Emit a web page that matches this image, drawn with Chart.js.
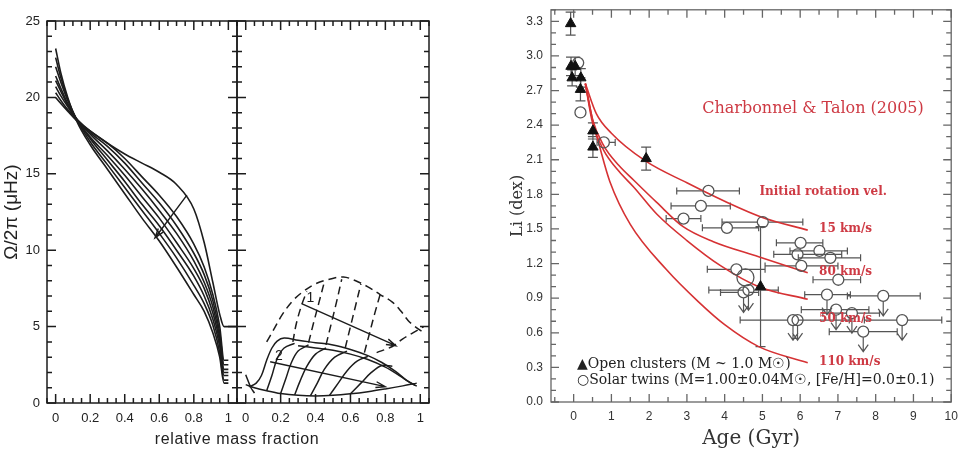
<!DOCTYPE html>
<html>
<head>
<meta charset="utf-8">
<script src="https://cdn.jsdelivr.net/npm/chart.js@4.4.1/dist/chart.umd.min.js"></script>
<style>
body { margin: 0; background: #fff; width: 961px; height: 451px; position: relative; overflow: hidden; }
canvas { position: absolute; top: 0; }
#massLabel { position: absolute; left: 137px; width: 200px; top: 430px; line-height: 18px; text-align: center;
  font: 16px "Liberation Sans", Arial, sans-serif; letter-spacing: 0.6px; color: #222; }
</style>
</head>
<body>
<canvas id="omegaLeft" width="240" height="451" style="left:0"></canvas>
<canvas id="omegaRight" width="215" height="451" style="left:227px"></canvas>
<canvas id="liChart" width="461" height="451" style="left:500px"></canvas>
<div id="massLabel">relative mass fraction</div>
<script>
// ---- left panel: rotation profiles (Omega/2pi vs relative mass fraction)
const massTicks = [0, 0.2, 0.4, 0.6, 0.8, 1];
const omegaTicks = [0, 5, 10, 15, 20, 25];
const massX = [0, 0.03, 0.07, 0.12, 0.2, 0.3, 0.4, 0.5, 0.6, 0.7, 0.8, 0.86, 0.91, 0.95, 0.975, 1.0, 1.05];
const omega1 = [20.0, 19.6, 19.1, 18.5, 17.8, 17.0, 16.3, 15.7, 15.1, 14.3, 12.7, 10.5, 7.9, 5.8, 5.0, 5.0, 5.0];
const omega2 = [20.3, 19.8, 19.2, 18.6, 17.8, 17.0, 16.0, 14.8, 13.6, 12.2, 10.4, 8.9, 7.1, 5.0, 2.8, 2.8, null];
const omega3 = [20.7, 20.1, 19.4, 18.6, 17.7, 16.8, 15.7, 14.4, 13.1, 11.6, 9.8, 8.4, 6.7, 4.6, 2.5, 2.5, null];
const omega4 = [21.1, 20.4, 19.5, 18.6, 17.6, 16.5, 15.3, 14.0, 12.6, 11.1, 9.3, 7.9, 6.3, 4.3, 2.2, 2.2, null];
const omega5 = [21.4, 20.6, 19.6, 18.6, 17.4, 16.2, 14.9, 13.5, 12.1, 10.5, 8.8, 7.5, 5.9, 4.0, 2.0, 2.0, null];
const omega6 = [22.0, 21.0, 19.8, 18.6, 17.3, 15.9, 14.5, 13.0, 11.6, 10.0, 8.3, 7.0, 5.5, 3.7, 1.8, 1.8, null];
const omega7 = [22.6, 21.3, 19.9, 18.6, 17.1, 15.6, 14.1, 12.6, 11.1, 9.5, 7.7, 6.5, 5.1, 3.3, 1.5, 1.5, null];
const omega8 = [23.2, 21.6, 20.0, 18.5, 16.9, 15.3, 13.7, 12.1, 10.6, 8.9, 7.1, 6.0, 4.6, 3.0, 1.3, 1.3, null];
const omegaCurves = [omega1, omega2, omega3, omega4, omega5, omega6, omega7, omega8];
const omegaArrow = {from: [0.76, 13.6], to: [0.575, 10.8]};

// ---- second sub-panel: solid family "2" and dashed family "1"
const solidOuter = [[0.02,1.05],[0.06,1.3],[0.09,1.8],[0.12,2.8],[0.15,3.6],[0.18,4.05],[0.22,4.25],[0.3,4.1],[0.4,3.95],[0.5,3.8],[0.6,3.5],[0.7,3.1],[0.78,2.65],[0.86,2.05],[0.92,1.5],[0.97,1.15]];
const solidBottom = [[0.0,1.2],[0.05,1.0],[0.12,0.8],[0.2,0.62],[0.3,0.5],[0.4,0.46],[0.5,0.5],[0.6,0.6],[0.7,0.74],[0.8,0.92],[0.9,1.12],[0.98,1.3]];
const solidTop = [[0.3,3.75],[0.4,3.6],[0.5,3.45],[0.6,3.2],[0.7,2.85],[0.8,2.35],[0.88,1.8],[0.94,1.35],[0.98,1.1]];
const solidSpike = [[0.0,1.85],[0.03,1.0],[0.05,0.65]];
const solidRise1 = [[0.12,0.8],[0.15,1.8],[0.18,2.9],[0.22,3.6],[0.28,3.9]];
const solidRise2 = [[0.2,0.62],[0.23,1.6],[0.26,2.6],[0.3,3.4],[0.36,3.8]];
const solidRise3 = [[0.28,0.52],[0.31,1.4],[0.35,2.4],[0.4,3.2],[0.46,3.6]];
const solidRise4 = [[0.37,0.46],[0.41,1.3],[0.45,2.2],[0.51,3.0],[0.58,3.4]];
const solidRise5 = [[0.48,0.5],[0.53,1.3],[0.58,2.1],[0.64,2.75],[0.7,3.05]];
const solidRise6 = [[0.6,0.6],[0.66,1.3],[0.72,2.0],[0.78,2.45],[0.84,2.4]];
const dashOuter = [[0.12,4.0],[0.16,4.8],[0.21,5.8],[0.27,6.7],[0.33,7.3],[0.4,7.8],[0.48,8.1],[0.56,8.25],[0.63,8.0],[0.7,7.6],[0.77,7.1],[0.84,6.6],[0.89,6.0],[0.93,5.4],[0.97,5.0],[1.02,4.6]];
const dash1 = [[0.27,4.0],[0.29,5.2],[0.32,6.4],[0.35,7.3]];
const dash2 = [[0.36,3.95],[0.39,5.3],[0.42,6.6],[0.45,7.9]];
const dash3 = [[0.46,3.8],[0.49,5.2],[0.52,6.6],[0.55,8.1]];
const dash4 = [[0.57,3.6],[0.6,5.0],[0.63,6.4],[0.66,7.8]];
const dash5 = [[0.68,3.3],[0.71,4.6],[0.74,5.9],[0.77,7.1]];
const dashLower = [[0.75,3.3],[0.84,3.7],[0.9,4.2],[0.96,4.6],[1.02,5.0]];
const solidCurves = [solidOuter, solidBottom, solidTop, solidSpike, solidRise1, solidRise2, solidRise3, solidRise4, solidRise5, solidRise6];
const dashCurves = [dashOuter, dash1, dash2, dash3, dash4, dash5, dashLower];
const arrowOne = {from: [0.32, 6.5], to: [0.86, 3.75]};
const arrowTwo = {from: [0.14, 2.7], to: [0.8, 1.07]};

// ---- right panel: Li abundance vs age
const ageTicks = [0, 1, 2, 3, 4, 5, 6, 7, 8, 9, 10];
const liTicks = [0, 0.3, 0.6, 0.9, 1.2, 1.5, 1.8, 2.1, 2.4, 2.7, 3.0, 3.3];
const clusterAge = [-0.08, -0.07, 0.04, -0.04, 0.19, 0.18, 0.51, 0.51, 1.92, 4.95];
const clusterLi = [3.28, 2.91, 2.91, 2.81, 2.81, 2.71, 2.35, 2.21, 2.11, 1.0];
const clusterLiErr = [0.1, 0.08, 0.08, 0.07, 0.08, 0.1, 0.07, 0.09, 0.1, 0.52];
const twinAge = [0.12, 0.18, 0.8, 3.57, 3.37, 2.91, 4.06, 5.01, 6.01, 6.51, 5.93, 6.8, 6.03, 7.01, 4.31, 4.63, 6.71, 8.2, 6.95, 7.37, 5.81, 5.93, 7.67, 8.7, 4.5];
const twinLi = [2.94, 2.51, 2.25, 1.83, 1.70, 1.59, 1.51, 1.56, 1.38, 1.31, 1.28, 1.25, 1.18, 1.06, 1.15, 0.97, 0.93, 0.92, 0.80, 0.77, 0.71, 0.71, 0.61, 0.71, 0.95];
const twinAgeLo = [0.12, 0.18, 0.62, 2.73, 2.58, 2.45, 3.41, 3.93, 5.37, 5.73, 5.3, 5.95, 5.07, 6.34, 3.54, 3.58, 6.12, 7.25, 6.03, 6.6, 4.41, 5.93, 6.77, 7.7, 3.89];
const twinAgeHi = [0.12, 0.18, 1.1, 4.39, 4.15, 3.37, 4.9, 6.07, 6.6, 7.25, 7.1, 7.6, 7.0, 7.6, 5.07, 5.42, 7.33, 9.18, 7.82, 8.1, 7.3, 5.93, 8.57, 9.75, 4.9];
const twinUpper = [0, 0, 0, 0, 0, 0, 0, 0, 0, 0, 0, 0, 0, 0, 0, 1, 1, 1, 1, 1, 1, 1, 1, 1, 1];
const bigTwinAge = [4.55];
const bigTwinLi = [1.08];
const vel15Age = [0.31, 0.6, 1.0, 1.9, 3.0, 4.0, 5.0, 6.2];
const vel15Li = [2.76, 2.5, 2.33, 2.09, 1.9, 1.74, 1.6, 1.49];
const vel80Age = [0.31, 0.5, 0.8, 1.2, 1.6, 2.2, 2.9, 3.7, 4.9, 6.2];
const vel80Li = [2.76, 2.45, 2.22, 2.05, 1.92, 1.73, 1.52, 1.39, 1.26, 1.12];
const vel50Age = [0.31, 0.5, 0.8, 1.2, 1.6, 2.2, 3.0, 3.9, 4.9, 6.2];
const vel50Li = [2.76, 2.42, 2.18, 2.0, 1.86, 1.63, 1.4, 1.18, 1.0, 0.89];
const vel110Age = [0.31, 0.5, 0.7, 0.96, 1.5, 2.45, 3.3, 4.0, 4.9, 6.2];
const vel110Li = [2.76, 2.45, 2.2, 1.91, 1.54, 1.15, 0.87, 0.67, 0.48, 0.34];
const velLabels = ['15 km/s', '80 km/s', '50 km/s', '110 km/s'];
const velLabelLi = [1.5, 1.13, 0.72, 0.35];

Chart.defaults.font.family = '"Liberation Sans", Arial, sans-serif';

function stepValues(min, max, step) {
    const out = [];
    for (let k = Math.ceil(min / step - 1e-9); k * step <= max + 1e-9; k++) out.push(k * step);
    return out;
}
const onStep = (v, step) => Math.abs(v / step - Math.round(v / step)) < 1e-6;

// box frame with inward ticks on all four sides
const frameTicks = {
    id: 'frameTicks',
    afterDatasetsDraw(chart, args, o) {
        const {ctx, chartArea: a} = chart;
        const xs = chart.scales.x, ys = chart.scales.y;
        ctx.save();
        ctx.strokeStyle = o.color;
        ctx.lineWidth = o.lineWidth;
        ctx.beginPath();
        stepValues(xs.min, xs.max, o.xMinor).forEach(v => {
            const p = xs.getPixelForValue(v);
            const len = onStep(v, o.xMajor) ? o.majorLen : o.minorLen;
            ctx.moveTo(p, a.bottom); ctx.lineTo(p, a.bottom - len);
            ctx.moveTo(p, a.top); ctx.lineTo(p, a.top + len);
        });
        stepValues(ys.min, ys.max, o.yMinor).forEach(v => {
            const p = ys.getPixelForValue(v);
            const len = onStep(v, o.yMajor) ? o.majorLen : o.minorLen;
            ctx.moveTo(a.left, p); ctx.lineTo(a.left + len, p);
            ctx.moveTo(a.right, p); ctx.lineTo(a.right - len, p);
        });
        ctx.stroke();
        ctx.strokeRect(a.left, a.top, a.right - a.left, a.bottom - a.top);
        ctx.restore();
    }
};

// arrows and text placed in data units
const notes = {
    id: 'notes',
    afterDatasetsDraw(chart, args, o) {
        const {ctx} = chart;
        const xs = chart.scales.x, ys = chart.scales.y;
        ctx.save();
        (o.arrows || []).forEach(ar => {
            const x0 = xs.getPixelForValue(ar.from[0]), y0 = ys.getPixelForValue(ar.from[1]);
            const x1 = xs.getPixelForValue(ar.to[0]), y1 = ys.getPixelForValue(ar.to[1]);
            const ang = Math.atan2(y1 - y0, x1 - x0);
            ctx.strokeStyle = '#1c1c1c';
            ctx.lineWidth = 1.4;
            ctx.beginPath();
            ctx.moveTo(x0, y0); ctx.lineTo(x1, y1);
            ctx.moveTo(x1 - 10 * Math.cos(ang - 0.3), y1 - 10 * Math.sin(ang - 0.3));
            ctx.lineTo(x1, y1);
            ctx.lineTo(x1 - 10 * Math.cos(ang + 0.3), y1 - 10 * Math.sin(ang + 0.3));
            ctx.stroke();
        });
        (o.labels || []).forEach(lb => {
            ctx.font = lb.font;
            ctx.fillStyle = lb.color;
            ctx.textAlign = lb.align || 'left';
            ctx.textBaseline = 'middle';
            ctx.fillText(lb.text, xs.getPixelForValue(lb.at[0]), ys.getPixelForValue(lb.at[1]));
        });
        ctx.restore();
    }
};

// horizontal age bars, vertical Li bars and upper-limit arrows
const errorBars = {
    id: 'errorBars',
    beforeDatasetsDraw(chart) {
        const {ctx, chartArea: a} = chart;
        const xs = chart.scales.x, ys = chart.scales.y;
        const r = 5.5;
        ctx.save();
        ctx.beginPath();
        ctx.rect(a.left, a.top, a.right - a.left, a.bottom - a.top);
        ctx.clip();
        ctx.strokeStyle = '#555';
        ctx.lineWidth = 1.2;
        ctx.beginPath();
        twinAge.forEach((age, i) => {
            const px = xs.getPixelForValue(age), py = ys.getPixelForValue(twinLi[i]);
            const x0 = xs.getPixelForValue(twinAgeLo[i]), x1 = xs.getPixelForValue(twinAgeHi[i]);
            if (x1 - x0 > 1) {
                ctx.moveTo(x0, py); ctx.lineTo(px - r, py);
                ctx.moveTo(px + r, py); ctx.lineTo(x1, py);
                ctx.moveTo(x0, py - 3.5); ctx.lineTo(x0, py + 3.5);
                ctx.moveTo(x1, py - 3.5); ctx.lineTo(x1, py + 3.5);
            }
            if (twinUpper[i]) {
                ctx.moveTo(px, py + r); ctx.lineTo(px, py + 20);
                ctx.moveTo(px - 5, py + 13); ctx.lineTo(px, py + 20); ctx.lineTo(px + 5, py + 13);
            }
        });
        clusterAge.forEach((age, i) => {
            const px = xs.getPixelForValue(age);
            const y0 = ys.getPixelForValue(clusterLi[i] - clusterLiErr[i]);
            const y1 = ys.getPixelForValue(clusterLi[i] + clusterLiErr[i]);
            ctx.moveTo(px, y0); ctx.lineTo(px, y1);
            ctx.moveTo(px - 5, y0); ctx.lineTo(px + 5, y0);
            ctx.moveTo(px - 5, y1); ctx.lineTo(px + 5, y1);
        });
        ctx.stroke();
        ctx.restore();
    }
};

// fixed axis size, and no extra room for labels that overhang the box
function fixedAxis(size, horizontal) {
    return s => {
        if (horizontal) s.height = size; else s.width = size;
        s.paddingTop = 0; s.paddingBottom = 0; s.paddingLeft = 0; s.paddingRight = 0;
    };
}
function tickList(list) {
    return s => { s.ticks = list.map(v => ({value: v})); };
}
const pairData = pts => pts.map(p => ({x: p[0], y: p[1]}));
const zipData = (xs, ys) => xs.map((v, i) => ({x: v, y: ys[i]})).filter(p => p.y !== null);

const omegaFrame = {color: '#1c1c1c', lineWidth: 1.5, xMajor: 0.2, xMinor: 0.05, yMajor: 5, yMinor: 1, majorLen: 9, minorLen: 5};
const massTickOpts = {padding: 8, autoSkip: false, maxRotation: 0, color: '#222', font: {size: 13}, callback: v => String(v)};

new Chart(document.getElementById('omegaLeft'), {
    type: 'scatter',
    data: {
        datasets: omegaCurves.map(c => ({
            data: zipData(massX, c),
            showLine: true, pointRadius: 0, borderColor: '#1c1c1c', borderWidth: 1.6,
            cubicInterpolationMode: 'monotone'
        }))
    },
    options: {
        responsive: false, animation: false,
        layout: {padding: {top: 21, right: 3, left: 0, bottom: 0}},
        plugins: {
            legend: {display: false}, tooltip: {enabled: false},
            frameTicks: omegaFrame,
            notes: {arrows: [omegaArrow]}
        },
        scales: {
            x: {
                type: 'linear', min: -0.05, max: 1.05,
                grid: {display: false, drawTicks: false}, border: {display: false},
                afterBuildTicks: tickList(massTicks), afterFit: fixedAxis(48, true),
                ticks: massTickOpts
            },
            y: {
                type: 'linear', min: 0, max: 25,
                grid: {display: false, drawTicks: false}, border: {display: false},
                afterBuildTicks: tickList(omegaTicks), afterFit: fixedAxis(47, false),
                ticks: {padding: 7, autoSkip: false, color: '#222', font: {size: 13}},
                title: {display: true, text: 'Ω/2π (μHz)', color: '#222', font: {size: 19}, padding: {top: 0, bottom: 0}}
            }
        }
    },
    plugins: [frameTicks, notes]
});

new Chart(document.getElementById('omegaRight'), {
    type: 'scatter',
    data: {
        datasets: solidCurves.map(c => ({
            data: pairData(c), showLine: true, pointRadius: 0,
            borderColor: '#1c1c1c', borderWidth: 1.5, tension: 0.35
        })).concat(dashCurves.map(c => ({
            data: pairData(c), showLine: true, pointRadius: 0,
            borderColor: '#1c1c1c', borderWidth: 1.5, tension: 0.35, borderDash: [8, 5]
        })))
    },
    options: {
        responsive: false, animation: false,
        layout: {padding: {top: 21, right: 13, left: 10, bottom: 0}},
        plugins: {
            legend: {display: false}, tooltip: {enabled: false},
            frameTicks: omegaFrame,
            notes: {
                arrows: [arrowOne, arrowTwo],
                labels: [
                    {text: '1', at: [0.37, 6.85], font: '14px "Liberation Sans"', color: '#1c1c1c', align: 'center'},
                    {text: '2', at: [0.19, 3.05], font: '14px "Liberation Sans"', color: '#1c1c1c', align: 'center'}
                ]
            }
        },
        scales: {
            x: {
                type: 'linear', min: -0.05, max: 1.05,
                grid: {display: false, drawTicks: false}, border: {display: false},
                afterBuildTicks: tickList(massTicks), afterFit: fixedAxis(48, true),
                ticks: massTickOpts
            },
            y: {type: 'linear', min: 0, max: 25, display: false}
        }
    },
    plugins: [frameTicks, notes]
});

const redCurve = {showLine: true, pointRadius: 0, borderColor: 'rgb(214,50,52)', borderWidth: 1.6, cubicInterpolationMode: 'monotone'};
const redText = 'rgb(206,58,68)';

new Chart(document.getElementById('liChart'), {
    type: 'scatter',
    data: {
        datasets: [
            {data: zipData(clusterAge, clusterLi), pointStyle: 'triangle', pointRadius: 6,
             backgroundColor: '#111', borderColor: '#111', borderWidth: 1},
            {data: zipData(twinAge, twinLi), pointStyle: 'circle', pointRadius: 5.5,
             backgroundColor: 'rgba(0,0,0,0)', borderColor: '#555', borderWidth: 1.3},
            {data: zipData(bigTwinAge, bigTwinLi), pointStyle: 'circle', pointRadius: 8.5,
             backgroundColor: 'rgba(0,0,0,0)', borderColor: '#555', borderWidth: 1.3},
            Object.assign({data: zipData(vel15Age, vel15Li)}, redCurve),
            Object.assign({data: zipData(vel80Age, vel80Li)}, redCurve),
            Object.assign({data: zipData(vel50Age, vel50Li)}, redCurve),
            Object.assign({data: zipData(vel110Age, vel110Li)}, redCurve)
        ]
    },
    options: {
        responsive: false, animation: false,
        layout: {padding: {top: 3, right: 9, left: 0, bottom: 0}},
        plugins: {
            legend: {display: false}, tooltip: {enabled: false},
            frameTicks: {color: '#666', lineWidth: 1.3, xMajor: 1, xMinor: 0.5, yMajor: 0.3, yMinor: 0.1, majorLen: 8, minorLen: 5},
            notes: {
                labels: [
                    {text: 'Charbonnel & Talon (2005)', at: [6.34, 2.54], font: '16px "DejaVu Serif"', color: redText, align: 'center'},
                    {text: 'Initial rotation vel.', at: [4.92, 1.82], font: 'bold 12px "DejaVu Serif"', color: redText}
                ].concat(velLabels.map((t, i) => ({text: t, at: [6.5, velLabelLi[i]], font: 'bold 12px "DejaVu Serif"', color: redText}))).concat([
                    {text: '▲Open clusters (M ~ 1.0 M☉)', at: [0.09, 0.326], font: '14px "DejaVu Serif"', color: '#222'},
                    {text: '○Solar twins (M=1.00±0.04M☉, [Fe/H]=0.0±0.1)', at: [0.09, 0.184], font: '14px "DejaVu Serif"', color: '#222'}
                ])
            }
        },
        scales: {
            x: {
                type: 'linear', min: -0.6, max: 10,
                grid: {display: false, drawTicks: false}, border: {display: false},
                afterBuildTicks: tickList(ageTicks), afterFit: fixedAxis(49, true),
                ticks: {padding: 7, autoSkip: false, maxRotation: 0, color: '#333', font: {size: 12}},
                title: {display: true, text: 'Age (Gyr)', color: '#333', font: {family: '"DejaVu Serif"', size: 20}, padding: {top: 0, bottom: 0}}
            },
            y: {
                type: 'linear', min: 0, max: 3.4,
                grid: {display: false, drawTicks: false}, border: {display: false},
                afterBuildTicks: tickList(liTicks), afterFit: fixedAxis(51, false),
                ticks: {padding: 8, autoSkip: false, color: '#333', font: {size: 12}, callback: v => v.toFixed(1)},
                title: {display: true, text: 'Li (dex)', color: '#333', font: {family: '"DejaVu Serif"', size: 16}, padding: {top: 8, bottom: 0}}
            }
        }
    },
    plugins: [errorBars, frameTicks, notes]
});
</script>
</body>
</html>
